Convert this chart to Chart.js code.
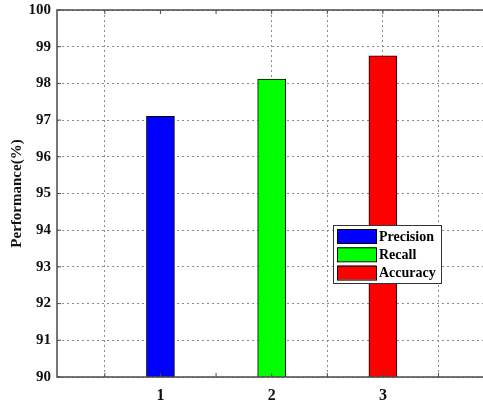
<!DOCTYPE html>
<html>
<head>
<meta charset="utf-8">
<script src="https://cdn.jsdelivr.net/npm/chart.js@4.4.1/dist/chart.umd.min.js"></script>
<style>
  html, body { margin: 0; padding: 0; background: #fff; overflow: hidden; }
</style>
</head>
<body>
<canvas id="perf_chart" width="483" height="404"></canvas>
<script>
// data
const seriesNames = ['Precision', 'Recall', 'Accuracy'];
const seriesX = [1, 2, 3];
const seriesValues = [97.1, 98.12, 98.75];
const seriesColors = ['#0000ff', '#00ff00', '#ff0000'];
const xTickValues = [0.5, 1, 1.5, 2, 2.5, 3, 3.5];
const xTickLabels = { 1: '1', 2: '2', 3: '3' };
const xGridHidden = [1, 1.5];   // no dotted line visible there in the original
const xMin = 0.07, xMax = 3.9;  // right side of the box is cut off in the original
const yMin = 90, yMax = 100, yStep = 1;

const serif = 'Liberation Serif, Times New Roman, serif';

// box around the plot (no right edge, it is cropped) + matlab style inward ticks
const framePlugin = {
  id: 'frame',
  afterDraw(chart) {
    const { ctx, chartArea: a, scales } = chart;
    ctx.save();
    ctx.strokeStyle = '#4a4a4a';
    ctx.lineWidth = 1.5;
    ctx.beginPath();
    ctx.moveTo(a.right, a.top); ctx.lineTo(a.left, a.top);
    ctx.lineTo(a.left, a.bottom); ctx.lineTo(a.right, a.bottom);
    ctx.stroke();
    ctx.lineWidth = 1;
    ctx.beginPath();
    scales.x.ticks.forEach(t => {
      const px = scales.x.getPixelForValue(t.value);
      ctx.moveTo(px, a.top); ctx.lineTo(px, a.top + 4);
      ctx.moveTo(px, a.bottom); ctx.lineTo(px, a.bottom - 4);
    });
    scales.y.ticks.forEach(t => {
      const py = scales.y.getPixelForValue(t.value);
      ctx.moveTo(a.left, py); ctx.lineTo(a.left + 4, py);
    });
    ctx.stroke();
    ctx.restore();
  }
};

// legend box drawn inside the plot
const boxLegend = {
  id: 'boxLegend',
  afterDraw(chart, args, opts) {
    const { ctx } = chart;
    ctx.save();
    ctx.fillStyle = '#fff';
    ctx.fillRect(opts.x, opts.y, opts.w, opts.h);
    ctx.strokeStyle = '#333';
    ctx.lineWidth = 1;
    ctx.strokeRect(opts.x + 0.5, opts.y + 0.5, opts.w, opts.h);
    ctx.font = 'bold 14px ' + serif;
    ctx.textBaseline = 'middle';
    chart.data.datasets.forEach((ds, i) => {
      const cy = opts.y + 11 + i * 18.3;
      ctx.fillStyle = ds.backgroundColor;
      ctx.fillRect(opts.x + 4, cy - 7, 39, 14);
      ctx.strokeStyle = '#000';
      ctx.strokeRect(opts.x + 4.5, cy - 6.5, 39, 14);
      ctx.fillStyle = '#000';
      ctx.fillText(ds.label, opts.x + 46, cy + 1);
    });
    ctx.restore();
  }
};

const datasets = seriesNames.map((name, i) => ({
  label: name,
  data: [{ x: seriesX[i], y: seriesValues[i] }],
  backgroundColor: seriesColors[i],
  borderColor: '#000',
  borderWidth: 1,
  barThickness: 28,
  grouped: false
}));

new Chart('perf_chart', {
  type: 'bar',
  data: { datasets: datasets },
  options: {
    responsive: false,
    animation: false,
    layout: { padding: { top: 10, right: 0, left: 0, bottom: 0 } },
    plugins: {
      legend: { display: false },
      tooltip: { enabled: false },
      boxLegend: { x: 333, y: 225, w: 108, h: 58 }
    },
    scales: {
      x: {
        type: 'linear',
        min: xMin,
        max: xMax,
        offset: false,
        afterBuildTicks: s => { s.ticks = xTickValues.map(v => ({ value: v })); },
        afterFit: s => { s.height = 27; s.paddingLeft = 0; s.paddingRight = 0; },
        border: { display: false, dash: [2, 3] },
        grid: {
          offset: false,
          drawTicks: false,
          color: c => (c.tick && xGridHidden.includes(c.tick.value)) ? 'rgba(0,0,0,0)' : '#8c8c8c',
          lineWidth: 1
        },
        ticks: {
          autoSkip: false,
          maxRotation: 0,
          padding: 9,
          color: '#111',
          font: { family: serif, weight: 'bold', size: 16 },
          callback: v => xTickLabels[v] || ''
        }
      },
      y: {
        min: yMin,
        max: yMax,
        afterFit: s => { s.width = 57; s.paddingTop = 0; s.paddingBottom = 0; },
        border: { display: false, dash: [2, 3] },
        grid: { drawTicks: false, color: '#8c8c8c', lineWidth: 1 },
        ticks: {
          stepSize: yStep,
          padding: 6,
          color: '#111',
          font: { family: serif, weight: 'bold', size: 15 }
        },
        title: {
          display: true,
          text: 'Performance(%)',
          color: '#111',
          font: { family: serif, weight: 'bold', size: 15 },
          padding: { top: 8, bottom: 0 }
        }
      }
    }
  },
  plugins: [framePlugin, boxLegend]
});
</script>
</body>
</html>
